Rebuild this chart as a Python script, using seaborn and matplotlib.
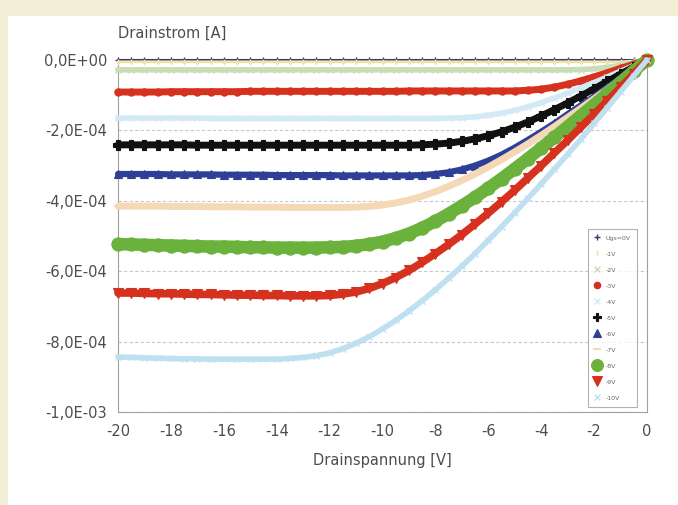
import numpy as np
import pandas as pd
import matplotlib
matplotlib.use("Agg")
import matplotlib.pyplot as plt
import seaborn as sns
from matplotlib.ticker import FixedLocator, FuncFormatter
from matplotlib.patches import Rectangle

# ---------------- data (current magnitude in units of 1e-4 A) ----------------
vds = [0, -0.5, -1, -1.5, -2, -2.5, -3, -3.5, -4, -4.5,
       -5, -5.5, -6, -6.5, -7, -7.5, -8, -8.5, -9, -9.5,
       -10, -10.5, -11, -11.5, -12, -12.5, -13, -13.5, -14, -14.5,
       -15, -15.5, -16, -16.5, -17, -17.5, -18, -18.5, -19, -19.5, -20]

labels = ["Ugs=0V", "-1V", "-2V", "-3V", "-4V", "-5V", "-6V", "-7V", "-8V", "-9V", "-10V"]

i_0v = [0, 0, 0, 0, 0, 0, 0, 0, 0, 0,
        0, 0, 0, 0, 0, 0, 0, 0, 0, 0,
        0, 0, 0, 0, 0, 0, 0, 0, 0, 0,
        0, 0, 0, 0, 0, 0, 0, 0, 0, 0, 0]
i_1v = [0, 0.03, 0.05, 0.05, 0.05, 0.05, 0.05, 0.05, 0.05, 0.05,
        0.05, 0.05, 0.05, 0.05, 0.05, 0.05, 0.05, 0.05, 0.05, 0.05,
        0.05, 0.05, 0.05, 0.05, 0.05, 0.05, 0.05, 0.05, 0.05, 0.05,
        0.05, 0.05, 0.05, 0.05, 0.05, 0.05, 0.05, 0.05, 0.05, 0.05, 0.05]
i_2v = [0, 0.08, 0.15, 0.21, 0.25, 0.27, 0.28, 0.28, 0.28, 0.28,
        0.28, 0.28, 0.28, 0.28, 0.28, 0.28, 0.28, 0.28, 0.28, 0.28,
        0.28, 0.28, 0.28, 0.28, 0.28, 0.28, 0.28, 0.28, 0.28, 0.28,
        0.28, 0.28, 0.28, 0.28, 0.28, 0.28, 0.28, 0.28, 0.28, 0.28, 0.28]
i_3v = [0, 0.12, 0.24, 0.36, 0.48, 0.59, 0.69, 0.77, 0.83, 0.86,
        0.88, 0.88, 0.88, 0.88, 0.88, 0.88, 0.88, 0.88, 0.88, 0.89,
        0.89, 0.89, 0.89, 0.89, 0.89, 0.89, 0.89, 0.89, 0.89, 0.89,
        0.89, 0.90, 0.90, 0.90, 0.90, 0.90, 0.90, 0.91, 0.91, 0.91, 0.91]
i_4v = [0, 0.16, 0.32, 0.48, 0.64, 0.79, 0.94, 1.08, 1.21, 1.33,
        1.43, 1.51, 1.57, 1.61, 1.64, 1.65, 1.66, 1.66, 1.66, 1.66,
        1.66, 1.66, 1.66, 1.66, 1.66, 1.66, 1.66, 1.66, 1.66, 1.66,
        1.66, 1.66, 1.66, 1.66, 1.65, 1.65, 1.65, 1.65, 1.65, 1.65, 1.65]
i_5v = [0, 0.20, 0.40, 0.61, 0.82, 1.02, 1.22, 1.41, 1.59, 1.76,
        1.91, 2.04, 2.15, 2.24, 2.31, 2.36, 2.39, 2.41, 2.42, 2.42,
        2.42, 2.42, 2.42, 2.42, 2.42, 2.42, 2.42, 2.42, 2.42, 2.42,
        2.42, 2.42, 2.42, 2.42, 2.42, 2.41, 2.41, 2.41, 2.41, 2.41, 2.41]
i_6v = [0, 0.26, 0.52, 0.78, 1.04, 1.29, 1.54, 1.80, 2.04, 2.27,
        2.49, 2.69, 2.86, 3.00, 3.11, 3.19, 3.24, 3.27, 3.28, 3.28,
        3.28, 3.28, 3.28, 3.28, 3.27, 3.27, 3.27, 3.27, 3.27, 3.26,
        3.26, 3.26, 3.26, 3.25, 3.25, 3.25, 3.25, 3.24, 3.24, 3.24, 3.24]
i_7v = [0, 0.27, 0.55, 0.83, 1.10, 1.37, 1.63, 1.89, 2.14, 2.38,
        2.61, 2.83, 3.04, 3.24, 3.42, 3.59, 3.74, 3.87, 3.98, 4.06,
        4.12, 4.16, 4.18, 4.19, 4.19, 4.19, 4.19, 4.19, 4.18, 4.18,
        4.18, 4.17, 4.17, 4.17, 4.16, 4.16, 4.16, 4.15, 4.15, 4.15, 4.15]
i_8v = [0, 0.31, 0.63, 0.95, 1.27, 1.58, 1.89, 2.20, 2.50, 2.80,
        3.09, 3.37, 3.64, 3.90, 4.14, 4.37, 4.58, 4.77, 4.93, 5.06,
        5.16, 5.23, 5.28, 5.31, 5.32, 5.33, 5.33, 5.33, 5.33, 5.32,
        5.32, 5.31, 5.30, 5.30, 5.29, 5.28, 5.27, 5.26, 5.25, 5.24, 5.23]
i_9v = [0, 0.39, 0.78, 1.16, 1.54, 1.91, 2.28, 2.64, 3.00, 3.35,
        3.70, 4.03, 4.35, 4.66, 4.96, 5.24, 5.50, 5.75, 5.98, 6.18,
        6.35, 6.49, 6.59, 6.65, 6.69, 6.70, 6.70, 6.70, 6.69, 6.69,
        6.68, 6.68, 6.67, 6.66, 6.66, 6.65, 6.64, 6.64, 6.63, 6.62, 6.62]
i_10v = [0, 0.45, 0.90, 1.35, 1.80, 2.25, 2.68, 3.10, 3.52, 3.93,
         4.34, 4.74, 5.12, 5.50, 5.86, 6.20, 6.53, 6.84, 7.13, 7.40,
         7.64, 7.86, 8.05, 8.20, 8.32, 8.40, 8.45, 8.48, 8.50, 8.50,
         8.50, 8.50, 8.50, 8.50, 8.49, 8.49, 8.48, 8.47, 8.46, 8.45, 8.44]

series = [i_0v, i_1v, i_2v, i_3v, i_4v, i_5v, i_6v, i_7v, i_8v, i_9v, i_10v]
unit = 1e-4

yticks = [0, -2e-4, -4e-4, -6e-4, -8e-4, -1e-3]
ytick_labels = ["0,0E+00", "-2,0E-04", "-4,0E-04", "-6,0E-04", "-8,0E-04", "-1,0E-03"]
xticks = [-20, -18, -16, -14, -12, -10, -8, -6, -4, -2, 0]

# ---------------- styles ----------------
colors = ["#3b3370", "#efe3a6", "#c9ddb6", "#d6311f", "#d3eaf6", "#111111",
          "#2e3f98", "#f5d9b6", "#6ab23c", "#d6311f", "#bfe0f0"]
markers = ["+", "|", "x", "o", "x", "P", "^", "_", "o", "v", "x"]
msizes = [5, 5, 5, 5, 5, 7, 6, 6, 9.5, 7.5, 5]
lwidths = [1.5, 2.0, 4.0, 5.0, 4.0, 5.0, 4.5, 5.0, 9.0, 5.5, 4.0]
mews = [1.0, 1.0, 1.0, 1.0, 1.0, 0.8, 0.8, 1.5, 0.8, 0.8, 1.0]

sns.set_theme(style="white")
plt.rcParams["font.family"] = ["DejaVu Sans"]
text_color = "#4d4d4d"

fig = plt.figure(figsize=(6.78, 5.05), dpi=100)
fig.patch.set_facecolor("#f2efd6")
fig.patches.append(Rectangle((8 / 678, 0), 1, (505 - 16) / 505, transform=fig.transFigure,
                             facecolor="white", edgecolor="none", zorder=-5))

ax = fig.add_axes([118 / 678, 93 / 505, 529 / 678, 352 / 505])
ax.set_zorder(2)
ax.set_facecolor("white")

for lab, vals, c, m, ms, lw, mw in zip(labels, series, colors, markers, msizes, lwidths, mews):
    df = pd.DataFrame({"Vds": vds, "Id": np.array(vals) * -unit})
    sns.lineplot(data=df, x="Vds", y="Id", ax=ax, color=c, marker=m, markersize=ms,
                 markeredgecolor=c, markerfacecolor=c, markeredgewidth=mw,
                 linewidth=lw, label=lab, clip_on=False, sort=False, zorder=3)

ax.set_xlim(-20, 0)
ax.set_ylim(-1e-3, 0)
ax.yaxis.set_major_locator(FixedLocator(yticks))
ax.yaxis.set_major_formatter(FuncFormatter(lambda v, p: ytick_labels[min(range(len(yticks)), key=lambda k: abs(yticks[k] - v))]))
ax.xaxis.set_major_locator(FixedLocator(xticks))
ax.xaxis.set_major_formatter(FuncFormatter(lambda v, p: f"{int(round(v))}"))

ax.grid(axis="y", color="#c8c8c8", linestyle=(0, (3, 2)), linewidth=0.8)
ax.grid(axis="x", visible=False)
ax.set_axisbelow(True)

for s in ["left", "bottom", "right"]:
    ax.spines[s].set_visible(True)
    ax.spines[s].set_color("#a0a0a0")
    ax.spines[s].set_linewidth(0.8)
ax.spines["top"].set_visible(False)

ax.tick_params(axis="x", direction="in", length=5, width=0.8, color="#a0a0a0",
               labelsize=10.5, labelcolor=text_color, pad=9)
ax.tick_params(axis="y", length=0, labelsize=10.5, labelcolor=text_color, pad=8)

ax.set_xlabel("Drainspannung [V]", fontsize=10.5, color=text_color, labelpad=10)
ax.set_ylabel("")
fig.text(118 / 678, 1 - 33 / 505, "Drainstrom [A]", fontsize=10.5, color=text_color,
         ha="left", va="center")

leg = ax.legend(loc="lower right", bbox_to_anchor=(0.987, 0.006), fontsize=4.5,
                frameon=True, fancybox=False, handlelength=1.0, handletextpad=0.8,
                labelspacing=1.7, borderpad=1.0, markerscale=0.9)
leg.get_frame().set_edgecolor("#a0a0a0")
leg.get_frame().set_linewidth(0.8)
for line in leg.get_lines():
    line.set_linewidth(0)
for t in leg.get_texts():
    t.set_color("#666666")

fig.savefig("out.png", dpi=100, facecolor=fig.get_facecolor())
